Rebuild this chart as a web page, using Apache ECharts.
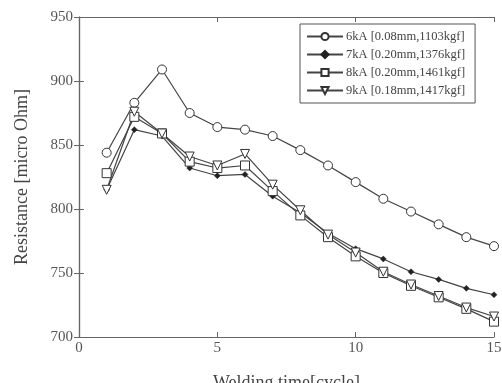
<!DOCTYPE html>
<html>
<head>
<meta charset="utf-8">
<script src="https://cdn.jsdelivr.net/npm/echarts@6/dist/echarts.min.js"></script>
<style>
  html, body { margin: 0; padding: 0; background: #fff; }
  #chart { width: 502px; height: 383px; }
</style>
</head>
<body>
<div id="chart"></div>
<script>
// welding time (cycle)
const cycles = [1, 2, 3, 4, 5, 6, 7, 8, 9, 10, 11, 12, 13, 14, 15]

const seriesNames = [
  '6kA [0.08mm,1103kgf]',
  '7kA [0.20mm,1376kgf]',
  '8kA [0.20mm,1461kgf]',
  '9kA [0.18mm,1417kgf]'
]

// resistance, micro Ohm
const r6kA = [844, 883, 909, 875, 864, 862, 857, 846, 834, 821, 808, 798, 788, 778, 771]
const r7kA = [815, 862, 857, 832, 826, 827, 810, 797, 781, 769, 761, 751, 745, 738, 733]
const r8kA = [828, 872, 859, 837, 832, 834, 814, 795, 778, 763, 750, 740, 731, 722, 712]
const r9kA = [815, 876, 859, 841, 834, 843, 819, 799, 780, 766, 751, 741, 732, 723, 716]

const xTicks = [0, 5, 10, 15]
const yTicks = [700, 750, 800, 850, 900, 950]

const font = '"Liberation Serif", "DejaVu Serif", serif'
const ink = '#444'

const toPoints = (vals) => vals.map((v, i) => [cycles[i], v])

const chart = echarts.init(document.getElementById('chart'))

const mkSeries = (name, data, symbol, size, extra = {}) => ({
  name,
  type: 'line',
  data: toPoints(data),
  symbol,
  symbolSize: size,
  showAllSymbol: true,
  lineStyle: { color: ink, width: 1.2 },
  itemStyle: { color: '#fff', borderColor: '#333', borderWidth: 1 },
  emphasis: { disabled: true },
  ...extra
})

const axisCommon = {
  type: 'value',
  axisLine: { show: true, lineStyle: { color: '#666', width: 1.2 } },
  axisTick: { show: true, inside: true, length: 5, lineStyle: { color: '#666' } },
  splitLine: { show: false }
}

const option = {
  animation: false,
  grid: { left: 79, right: 8, top: 17, bottom: 46, containLabel: false, outerBoundsMode: 'none' },
  legend: {
    orient: 'vertical',
    left: 300,
    top: 24,
    width: 184,
    itemWidth: 36,
    itemHeight: 9,
    itemGap: 5,
    padding: [6, 10, 6, 6],
    borderColor: '#555',
    borderWidth: 1,
    backgroundColor: '#fff',
    textStyle: { fontFamily: font, fontSize: 12.5, color: ink, padding: [0, 0, 0, -2] },
    data: seriesNames
  },
  xAxis: [
    {
      ...axisCommon,
      min: 0, max: 15, interval: 5,
      name: 'Welding time[cycle]',
      nameLocation: 'middle',
      nameGap: 37,
      nameTextStyle: { fontFamily: font, fontSize: 18, color: ink },
      axisLabel: {
        fontFamily: font, fontSize: 15, color: '#555', margin: 4,
        formatter: (v) => xTicks.includes(v) ? String(v) : ''
      }
    },
    {
      ...axisCommon,
      position: 'top',
      min: 0, max: 15, interval: 5,
      axisLabel: { show: false }
    }
  ],
  yAxis: [
    {
      ...axisCommon,
      min: 700, max: 950, interval: 50,
      name: 'Resistance [micro Ohm]',
      nameLocation: 'middle',
      nameGap: 48,
      nameTextStyle: { fontFamily: font, fontSize: 18, color: ink },
      axisLabel: {
        fontFamily: font, fontSize: 15, color: '#555', margin: 6,
        formatter: (v) => yTicks.includes(v) ? String(v) : ''
      }
    },
    {
      ...axisCommon,
      position: 'right',
      min: 700, max: 950, interval: 50,
      axisLabel: { show: false }
    }
  ],
  series: [
    mkSeries(seriesNames[0], r6kA, 'circle', 9),
    mkSeries(seriesNames[1], r7kA, 'diamond', 6, {
      itemStyle: { color: '#222', borderColor: '#222', borderWidth: 0.5 }
    }),
    mkSeries(seriesNames[2], r8kA, 'rect', 9),
    mkSeries(seriesNames[3], r9kA, 'triangle', 9, { symbolRotate: 180 })
  ]
}

chart.setOption(option)
</script>
</body>
</html>
